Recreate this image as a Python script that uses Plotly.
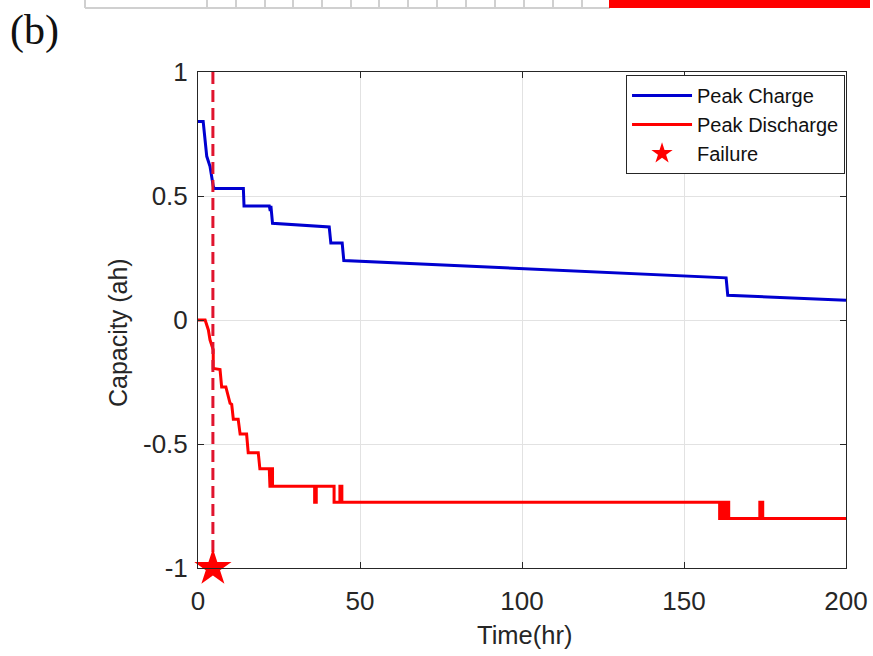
import plotly.graph_objects as go

# ---------------- data ----------------
charge_t = [0, 1.6, 2.7, 3.7, 4.7, 5.0, 14.0, 14.2, 22.0, 22.3, 22.5, 23.0, 40.5, 41.0, 44.5, 45.0, 163.0, 163.5, 200]
charge_v = [0.80, 0.80, 0.66, 0.62, 0.54, 0.53, 0.53, 0.46, 0.46, 0.44, 0.46, 0.39, 0.375, 0.31, 0.31, 0.24, 0.17, 0.10, 0.08]

discharge_t = [0, 2.2, 3.2, 3.7, 4.7, 4.7, 6.8, 7.3, 8.6, 9.9, 10.4, 10.9, 12.4, 13.0, 15.0, 15.5,
               18.6, 19.1, 22.0, 22.2, 22.6, 22.6, 23.0, 23.0, 36.0, 36.0, 36.5, 36.5, 42.0, 42.0,
               43.8, 43.8, 44.4, 44.4, 45.2, 45.2, 161.0, 161.0, 161.7, 161.7, 162.4, 162.4, 163.1, 163.1,
               163.8, 163.8, 173.4, 173.4, 174.3, 174.3, 200]
discharge_v = [0, 0, -0.04, -0.08, -0.12, -0.195, -0.20, -0.27, -0.27, -0.336, -0.34, -0.40, -0.40, -0.46, -0.46, -0.535,
               -0.535, -0.60, -0.60, -0.67, -0.67, -0.60, -0.60, -0.67, -0.67, -0.735, -0.735, -0.67, -0.67, -0.735,
               -0.735, -0.67, -0.67, -0.735, -0.735, -0.735, -0.735, -0.80, -0.80, -0.735, -0.735, -0.80, -0.80, -0.735,
               -0.735, -0.80, -0.80, -0.735, -0.735, -0.80, -0.80]

failure_t = [4.6]
failure_v = [-1.0]
failure_line_t = [4.6, 4.6]
failure_line_v = [1.0, -1.0]

x_tickvals = [0, 50, 100, 150, 200]
x_ticktext = ["0", "50", "100", "150", "200"]
y_tickvals = [-1, -0.5, 0, 0.5, 1]
y_ticktext = ["-1", "-0.5", "0", "0.5", "1"]

x_title = "Time(hr)"
y_title = "Capacity (ah)"
panel_label = "(b)"

# ---------------- figure ----------------
FONT = "Liberation Sans, Arial, sans-serif"
TXT = "#262626"
W, H = 873, 656
l, r, t, b = 198, 27, 72, 88
pw, ph = W - l - r, H - t - b


def px(xp):
    return (xp - l) / pw


def py(yp):
    return (H - b - yp) / ph


fig = go.Figure()

fig.add_trace(go.Scatter(x=charge_t, y=charge_v, mode="lines", name="Peak Charge",
                         line=dict(color="#0000d0", width=3)))
fig.add_trace(go.Scatter(x=discharge_t, y=discharge_v, mode="lines", name="Peak Discharge",
                         line=dict(color="#ff0000", width=3)))
fig.add_trace(go.Scatter(x=failure_line_t, y=failure_line_v, mode="lines", showlegend=False,
                         line=dict(color="#e0142e", width=3, dash="12px,6px"), hoverinfo="skip"))
fig.add_trace(go.Scatter(x=failure_t, y=failure_v, mode="markers", name="Failure", cliponaxis=False,
                         marker=dict(symbol="star", size=28, color="#ff0000", line=dict(width=0))))

axis_common = dict(showgrid=True, gridcolor="#e2e2e2", gridwidth=1, zeroline=False,
                   showline=True, linecolor=TXT, linewidth=1, mirror="ticks",
                   ticks="inside", ticklen=6, tickcolor=TXT, automargin=False,
                   tickfont=dict(family=FONT, size=26, color=TXT))

fig.update_xaxes(range=[0, 200], tickvals=x_tickvals, ticktext=x_ticktext,
                 ticklabelstandoff=10, **axis_common)
fig.update_yaxes(range=[-1, 1], tickvals=y_tickvals, ticktext=y_ticktext,
                 ticklabelstandoff=4, **axis_common)

annotations = [
    dict(text=panel_label, xref="paper", yref="paper", x=px(8), y=py(31),
         xanchor="left", yanchor="middle", showarrow=False,
         font=dict(family="Liberation Serif, Times New Roman, serif", size=42, color="#111111")),
    dict(text=x_title, xref="paper", yref="paper", x=px(524), y=py(635),
         xanchor="center", yanchor="middle", showarrow=False,
         font=dict(family=FONT, size=25.5, color=TXT)),
    dict(text=y_title, xref="paper", yref="paper", x=px(118), y=py(333),
         xanchor="center", yanchor="middle", showarrow=False, textangle=-90,
         font=dict(family=FONT, size=25, color=TXT)),
]

# top strip: fragment of the panel above (table border, cell dividers, red bar)
strip_shapes = [dict(type="line", xref="paper", yref="paper", x0=px(85), x1=px(610), y0=py(8), y1=py(8),
                     line=dict(color="#d0d0d0", width=2))]
for xv in [85, 207, 236, 265, 293, 322, 351, 379, 408, 437, 466, 495, 524, 553, 582]:
    strip_shapes.append(dict(type="line", xref="paper", yref="paper", x0=px(xv), x1=px(xv), y0=py(0), y1=py(8),
                             line=dict(color="#d0d0d0", width=2)))
strip_shapes.append(dict(type="rect", xref="paper", yref="paper", x0=px(609), x1=px(870), y0=py(0), y1=py(8),
                         fillcolor="#ff0000", line=dict(width=0)))

fig.update_layout(
    width=W, height=H,
    margin=dict(l=l, r=r, t=t, b=b),
    paper_bgcolor="white", plot_bgcolor="white",
    showlegend=True,
    legend=dict(x=0.9985, y=0.994, xanchor="right", yanchor="top",
                bgcolor="white", bordercolor=TXT, borderwidth=1,
                font=dict(family=FONT, size=20, color="#111111"),
                itemwidth=60, tracegroupgap=0),
    annotations=annotations,
    shapes=strip_shapes,
)

fig.write_html("out.html")
